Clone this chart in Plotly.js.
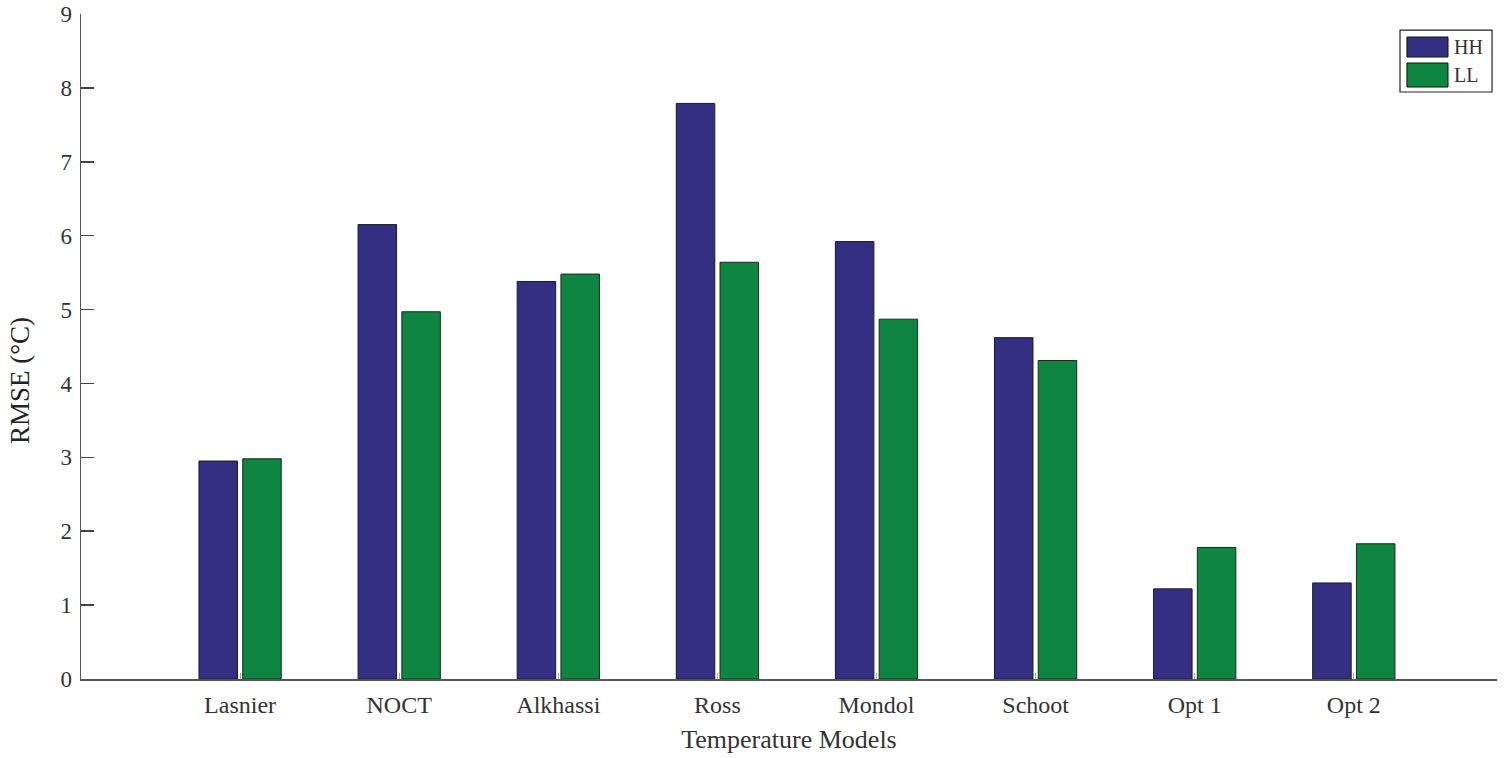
<!DOCTYPE html>
<html>
<head>
<meta charset="utf-8">
<script src="https://cdn.plot.ly/plotly-3.0.1.min.js"></script>
<style>html,body{margin:0;padding:0;background:#fff;}#chart{width:1504px;height:758px;}</style>
</head>
<body>
<div id="chart"></div>
<script>
const categories = ["Lasnier", "NOCT", "Alkhassi", "Ross", "Mondol", "Schoot", "Opt 1", "Opt 2"];
const hhValues = [2.95, 6.15, 5.38, 7.79, 5.92, 4.62, 1.22, 1.30];
const llValues = [2.98, 4.97, 5.48, 5.64, 4.87, 4.31, 1.78, 1.83];
const seriesNames = ["HH", "LL"];
const seriesColors = ["#352f84", "#0e8541"];
const yTickVals = [0, 1, 2, 3, 4, 5, 6, 7, 8, 9];

const serif = "Liberation Serif, Times New Roman, serif";

const traces = [
  {type: "bar", name: seriesNames[0], x: categories, y: hhValues,
   marker: {color: seriesColors[0], line: {color: "#1a1a2a", width: 1}}},
  {type: "bar", name: seriesNames[1], x: categories, y: llValues,
   marker: {color: seriesColors[1], line: {color: "#1a2a1a", width: 1}}}
];

// legend drawn as paper-referenced box (style only)
const shapes = [
  {type: "rect", xref: "paper", yref: "paper", x0: 0.9315, x1: 0.9965, y0: 0.8827, y1: 0.9759,
   line: {color: "#222", width: 1.2}, fillcolor: "#fff"},
  {type: "rect", xref: "paper", yref: "paper", x0: 0.9364, x1: 0.9654, y0: 0.9353, y1: 0.9654,
   line: {color: "#111", width: 1}, fillcolor: seriesColors[0]},
  {type: "rect", xref: "paper", yref: "paper", x0: 0.9364, x1: 0.9654, y0: 0.8902, y1: 0.9263,
   line: {color: "#111", width: 1}, fillcolor: seriesColors[1]}
];

const annotations = [
  {xref: "paper", yref: "paper", x: 0.9685, y: 0.9504, xanchor: "left", yanchor: "middle",
   text: seriesNames[0], showarrow: false, font: {family: serif, size: 20, color: "#333"}},
  {xref: "paper", yref: "paper", x: 0.9685, y: 0.9083, xanchor: "left", yanchor: "middle",
   text: seriesNames[1], showarrow: false, font: {family: serif, size: 20, color: "#333"}},
  {xref: "paper", yref: "paper", x: -0.0431, y: 0.4496, xanchor: "center", yanchor: "middle",
   textangle: -90, text: "RMSE (°C)", showarrow: false, font: {family: serif, size: 27, color: "#222"}}
];

const layout = {
  width: 1504, height: 758,
  margin: {l: 81, r: 7, t: 14, b: 79},
  paper_bgcolor: "#fff", plot_bgcolor: "#fff",
  barmode: "group", bargap: 0.45, bargroupgap: 0.12,
  font: {family: serif, color: "#333"},
  showlegend: false,
  shapes: shapes,
  annotations: annotations,
  xaxis: {
    type: "category", range: [-1, 7.9],
    showline: true, linecolor: "#555", linewidth: 1.5,
    showgrid: false, zeroline: false,
    ticks: "inside", ticklen: 6, tickcolor: "#aaa", tickwidth: 1,
    ticklabelstandoff: 4,
    tickfont: {family: serif, size: 24, color: "#333"},
    title: {text: "Temperature Models", font: {family: serif, size: 26, color: "#333"}, standoff: 12}
  },
  yaxis: {
    range: [0, 9], tickvals: yTickVals,
    showline: true, linecolor: "#555", linewidth: 1.5,
    showgrid: false, zeroline: false,
    ticks: "inside", ticklen: 13, tickcolor: "#444", tickwidth: 1.5,
    ticklabelstandoff: 3,
    tickfont: {family: serif, size: 23, color: "#333"}
  }
};

Plotly.newPlot("chart", traces, layout, {displayModeBar: false, staticPlot: true});
</script>
</body>
</html>
